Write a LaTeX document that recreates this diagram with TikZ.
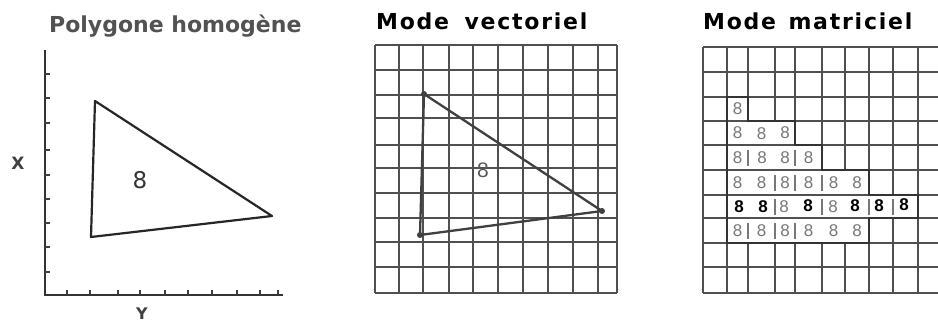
\documentclass[tikz,border=0pt]{standalone}
\usepackage{fontspec}
\setmainfont{Liberation Sans}
\newfontfamily\titleA{DejaVu Sans}
\newfontfamily\titleB[LetterSpace=8]{DejaVu Sans}
\newfontfamily\labfont{DejaVu Sans}
\definecolor{gridc}{HTML}{505050}
\definecolor{faint}{HTML}{777777}
\tikzset{
  gridline/.style={draw=gridc, line width=1.9pt},
  axisline/.style={draw=black!80, line width=2.1pt},
  tickline/.style={draw=black!75, line width=1.4pt},
  edge/.style={draw=black!85, line width=2.2pt, line join=round},
  vedge/.style={draw=black!75, line width=2.3pt, line join=round},
  outline/.style={draw=black!80, line width=2.6pt, fill=white, line join=miter},
  titlebox/.style={inner sep=0pt, anchor=base west, font=\bfseries\fontsize{22}{22}\selectfont},
  faintdigit/.style={text=faint, inner sep=0pt, font=\fontsize{17}{17}\selectfont},
  bolddigit/.style={text=black, inner sep=0pt, font=\bfseries\fontsize{17}{17}\selectfont},
  bar/.style={draw=faint, line width=1.2pt},
  vdot/.style={circle, fill=black!75, inner sep=0pt, minimum size=6pt},
}
\begin{document}
\begin{tikzpicture}[x=1pt,y=-1pt]
\useasboundingbox[fill=white] (0,0) rectangle (938,324);

% ---------- Panel 1 ----------
\node[titlebox, text=black!68] (t1) at (49,32) {\titleA Polygone homogène};
\coordinate (ax0) at (45,295);
\coordinate (axy) at (45,50);
\coordinate (axx) at (283,295);
\draw[axisline] (axy) -- (ax0) -- (axx);
\foreach \y in {74,98,123,150,175,199,223,247,272}
  \draw[tickline] (45,\y) -- (50,\y);
\foreach \x in {67,90,118,140,165,188,212,237,260,278}
  \draw[tickline] (\x,295) -- (\x,290);
\node[inner sep=0pt, font=\bfseries\fontsize{17}{17}\selectfont, text=black!75] (lx) at (18,163) {\labfont X};
\node[inner sep=0pt, font=\bfseries\fontsize{16}{16}\selectfont, text=black!75] (ly) at (142,314) {\labfont Y};
\coordinate (pa) at (95,101);
\coordinate (pb) at (91,237);
\coordinate (pc) at (272,216);
\draw[edge] (pa) -- (pb) -- (pc) -- cycle;
\node[inner sep=0pt, font=\fontsize{23}{23}\selectfont, text=black!80] (p8) at (140,180) {\labfont 8};

% ---------- Panel 2 ----------
\node[titlebox, text=black] (t2) at (376,30) {\titleB Mode\hspace{6pt} vectoriel};
\foreach \x in {375,399,423,449,473,498,523,548,573,598,617}
  \draw[gridline] (\x,45) -- (\x,293);
\foreach \y in {45,70,95,118,145,168,193,218,242,267,293}
  \draw[gridline] (375,\y) -- (617,\y);
\node[vdot] (va) at (424,94) {};
\node[vdot] (vb) at (420,235) {};
\node[vdot] (vc) at (602,211) {};
\draw[vedge] (va.center) -- (vb.center) -- (vc.center) -- cycle;
\node[inner sep=0pt, font=\fontsize{21}{21}\selectfont, text=black!65] (v8) at (483,170) {8};

% ---------- Panel 3 ----------
\node[titlebox, text=black] (t3) at (703,30) {\titleB Mode\hspace{3pt} matriciel};
\foreach \x in {703,727,748,775,795,822,845,869,893,918}
  \draw[gridline] (\x,47) -- (\x,293);
\draw[outline] (727,97) -- (748,97) -- (748,121) -- (795,121) -- (795,145)
  -- (822,145) -- (822,170) -- (869,170) -- (869,195) -- (918,195)
  -- (918,218) -- (869,218) -- (869,243) -- (727,243) -- cycle;
\foreach \y in {47,72,97,121,145,170,195,218,243,267,293}
  \draw[gridline] (703,\y) -- (938,\y);
\draw[draw=black!80, line width=2.6pt, line join=miter] (727,97) -- (748,97) -- (748,121) -- (795,121) -- (795,145)
  -- (822,145) -- (822,170) -- (869,170) -- (869,195) -- (918,195)
  -- (918,218) -- (869,218) -- (869,243) -- (727,243) -- cycle;
% separator bars
\foreach \x/\ya/\yb in {748/150/166, 795/150/166,
  775/175/191, 795/175/191, 822/175/191,
  775/199/215, 822/199/215, 869/199/215, 893/199/215,
  748/223/239, 775/223/239, 795/223/239}
  \draw[bar] (\x,\ya) -- (\x,\yb);
% digits
\node[faintdigit] (m21) at (737.5,109) {8};
\node[faintdigit] (m31) at (737.5,133) {8};
\node[faintdigit] (m32) at (761.5,134) {8};
\node[faintdigit] (m33) at (785,133) {8};
\node[faintdigit] (m41) at (737.5,157.5) {8};
\node[faintdigit] (m42) at (762,158) {8};
\node[faintdigit] (m43) at (785,158) {8};
\node[faintdigit] (m44) at (808.5,158) {8};
\node[faintdigit] (m51) at (737.5,182.5) {8};
\node[faintdigit] (m52) at (761.5,182.5) {8};
\node[faintdigit] (m53) at (785,182.5) {8};
\node[faintdigit] (m54) at (808.5,182.5) {8};
\node[faintdigit] (m55) at (833.5,182.5) {8};
\node[faintdigit] (m56) at (857,182.5) {8};
\node[bolddigit] (m61) at (739,207) {8};
\node[bolddigit] (m62) at (763,207) {8};
\node[faintdigit] (m63) at (784,207) {8};
\node[bolddigit] (m64) at (808,206) {8};
\node[faintdigit] (m65) at (833,207) {8};
\node[bolddigit] (m66) at (855,206) {8};
\node[bolddigit] (m67) at (879,206) {8};
\node[bolddigit] (m68) at (904,205) {8};
\node[faintdigit] (m71) at (737.5,230.5) {8};
\node[faintdigit] (m72) at (761.5,230.5) {8};
\node[faintdigit] (m73) at (785,230.5) {8};
\node[faintdigit] (m74) at (808.5,230.5) {8};
\node[faintdigit] (m75) at (833.5,230.5) {8};
\node[faintdigit] (m76) at (857,230.5) {8};
\end{tikzpicture}
\end{document}
